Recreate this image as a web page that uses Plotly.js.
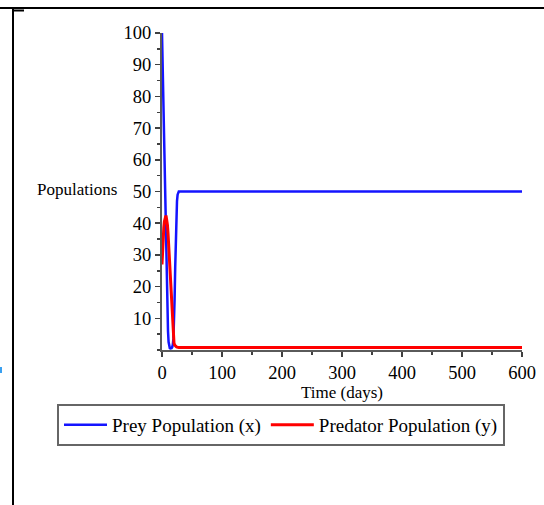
<!DOCTYPE html>
<html>
<head>
<meta charset="utf-8">
<script src="https://cdn.plot.ly/plotly-3.0.1.min.js"></script>
<style>
  html, body { margin: 0; padding: 0; background: #ffffff; }
  #chart { width: 544px; height: 505px; }
</style>
</head>
<body>
<div id="chart"></div>
<script>
// ---- data ----
const timeDays = [0, 1, 2, 3, 4, 5, 6, 7, 8, 9, 10, 11, 12, 13, 14, 15, 16, 17, 18, 19, 20, 21, 22, 23, 24, 25, 26, 27, 28, 30, 40, 50, 100, 200, 300, 400, 500, 600];
const preyX = [100, 91, 80, 68, 56, 45, 35, 26, 18, 11, 6, 2.5, 1, 0.6, 0.5, 0.5, 0.6, 0.9, 1.6, 3.5, 8, 16, 26, 36, 43, 47, 49, 49.8, 50, 50, 50, 50, 50, 50, 50, 50, 50, 50];
const predatorY = [27, 32, 35.5, 38.5, 40.5, 41.5, 42, 42, 41.2, 39.5, 37, 33.5, 29, 24.5, 20.5, 16, 12, 8.5, 5.5, 3.5, 2.2, 1.6, 1.3, 1.1, 1, 0.9, 0.8, 0.8, 0.8, 0.8, 0.8, 0.8, 0.8, 0.8, 0.8, 0.8, 0.8, 0.8];
const seriesNames = ["Prey Population (x)", "Predator Population (y)"];
const xTickVals = [0, 100, 200, 300, 400, 500, 600];
const yTickVals = [10, 20, 30, 40, 50, 60, 70, 80, 90, 100];
const xTitle = "Time (days)";
const yTitle = "Populations";

// ---- layout geometry ----
const W = 544, H = 505;
const M = { l: 162, r: 22, t: 33, b: 155 };
const PW = W - M.l - M.r, PH = H - M.t - M.b;
const px = (x) => (x - M.l) / PW;          // pixel x -> paper x
const py = (y) => (H - M.b - y) / PH;      // pixel y -> paper y

const FONT = "Liberation Serif, Times New Roman, serif";

const traces = [
  { x: timeDays, y: preyX, name: seriesNames[0], type: "scatter", mode: "lines",
    line: { color: "rgb(20,20,255)", width: 2.5 } },
  { x: timeDays, y: predatorY, name: seriesNames[1], type: "scatter", mode: "lines",
    line: { color: "rgb(255,0,0)", width: 3 } }
];

const axisCommon = {
  showgrid: false, zeroline: false, showline: true,
  linecolor: "#5a5a5a", linewidth: 2,
  ticks: "outside", ticklen: 5, tickwidth: 1.5, tickcolor: "#404040",
  tickfont: { family: FONT, size: 18.5, color: "#000" }
};

const layout = {
  width: W, height: H,
  margin: M,
  paper_bgcolor: "#fff", plot_bgcolor: "#fff",
  font: { family: FONT, color: "#000" },
  showlegend: true,
  xaxis: Object.assign({}, axisCommon, {
    range: [0, 600], tickmode: "array", tickvals: xTickVals,
    minor: { dtick: 50, tick0: 0, ticks: "outside", ticklen: 3, tickcolor: "#404040", tickwidth: 1.5 },
    title: { text: xTitle, font: { family: FONT, size: 17, color: "#000" }, standoff: 1 }
  }),
  yaxis: Object.assign({}, axisCommon, {
    range: [0, 100], tickmode: "array", tickvals: yTickVals,
    minor: { dtick: 5, tick0: 0, ticks: "outside", ticklen: 3, tickcolor: "#404040", tickwidth: 1.5 }
  }),
  legend: {
    orientation: "h", x: px(57), y: py(404), xanchor: "left", yanchor: "top",
    bordercolor: "#666", borderwidth: 2, bgcolor: "#fff",
    font: { family: FONT, size: 19, color: "#000" },
    itemwidth: 43, traceorder: "normal"
  },
  annotations: [
    { text: yTitle, xref: "paper", yref: "paper", x: px(119), y: py(189),
      xanchor: "right", yanchor: "middle", showarrow: false,
      font: { family: FONT, size: 17, color: "#000" } }
  ],
  shapes: [
    { type: "line", xref: "paper", yref: "paper", x0: px(0), x1: px(544), y0: py(8), y1: py(8),
      line: { color: "#000", width: 2 } },
    { type: "line", xref: "paper", yref: "paper", x0: px(13), x1: px(13), y0: py(9), y1: py(505),
      line: { color: "#000", width: 2 } },
    { type: "line", xref: "paper", yref: "paper", x0: px(13), x1: px(24), y0: py(10.5), y1: py(10.5),
      line: { color: "#000", width: 2 } },
    { type: "rect", xref: "paper", yref: "paper", x0: px(0), x1: px(2), y0: py(367), y1: py(373),
      fillcolor: "#3aa0f0", line: { width: 0 } }
  ]
};

Plotly.newPlot("chart", traces, layout, { staticPlot: true, displayModeBar: false });
</script>
</body>
</html>
